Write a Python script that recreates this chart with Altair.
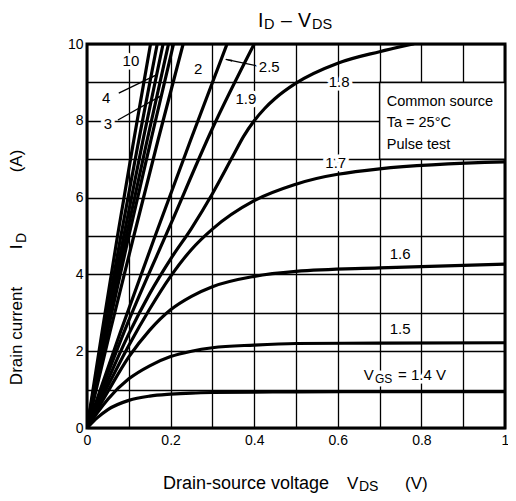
import math
import altair as alt
import pandas as pd

FONT = "Liberation Sans"
W, H = 418, 384

# ---------------- data ----------------
# saturating curves (VGS = 1.4 ... 1.7) on a common VDS grid
vds_sat = [0, 0.025, 0.05, 0.1, 0.15, 0.2, 0.25, 0.3, 0.4, 0.5, 0.7, 1.0]
id_14 = [0, 0.27, 0.48, 0.72, 0.83, 0.88, 0.91, 0.925, 0.935, 0.94, 0.945, 0.945]
id_15 = [0, 0.40, 0.75, 1.28, 1.62, 1.86, 2.00, 2.09, 2.16, 2.20, 2.21, 2.22]
id_16 = [0, 0.48, 0.95, 1.85, 2.55, 3.08, 3.43, 3.68, 3.95, 4.08, 4.17, 4.27]
id_17 = [0, 0.58, 1.10, 2.15, 3.10, 3.95, 4.65, 5.18, 5.92, 6.35, 6.75, 6.93]

# VGS = 1.8
vds_18 = [0, 0.05, 0.1, 0.15, 0.2, 0.25, 0.3, 0.35, 0.375, 0.4, 0.425, 0.45, 0.5, 0.6, 0.7, 0.78]
id_18 = [0, 1.25, 2.45, 3.5, 4.4, 5.2, 6.1, 7.1, 7.6, 8.0, 8.32, 8.58, 8.98, 9.5, 9.8, 10.0]

# VGS = 1.9 (almost straight)
vds_19 = [0, 0.1, 0.2, 0.3, 0.4]
id_19 = [0, 2.8, 5.3, 7.8, 10.0]

# steep linear-region lines, VDS at ID = 0, 2.5, 5, 7.5, 10 A
id_steep = [0, 2.5, 5, 7.5, 10]
vds_line1 = [0, 0.036, 0.073, 0.112, 0.152]
vds_line2 = [0, 0.040, 0.081, 0.124, 0.168]
vds_line3 = [0, 0.043, 0.088, 0.134, 0.182]
vds_line4 = [0, 0.046, 0.094, 0.144, 0.195]
vds_line5 = [0, 0.049, 0.100, 0.153, 0.207]
vds_line6 = [0, 0.055, 0.112, 0.170, 0.230]
vds_line7 = [0, 0.080, 0.163, 0.248, 0.335]

# curve labels
label_text = ["10", "4", "3", "2", "2.5", "1.9", "1.8", "1.7", "1.6", "1.5"]
label_v = [0.105, 0.046, 0.050, 0.266, 0.436, 0.380, 0.603, 0.595, 0.749, 0.749]
label_i = [9.57, 8.59, 7.92, 9.34, 9.41, 8.56, 9.02, 6.91, 4.53, 2.58]

# arrows from labels to lines
arrow_tail_v = [0.076, 0.074, 0.407]
arrow_tail_i = [8.72, 8.02, 9.43]
arrow_tip_v = [0.165, 0.180, 0.332]
arrow_tip_i = [9.19, 8.67, 9.60]

# VGS = 1.4 V label pieces
vgs_parts = ["V", "GS", "= 1.4 V"]
vgs_v = [0.662, 0.689, 0.744]
vgs_i = [1.38, 1.38, 1.38]

# conditions box
box_v = [0.7, 1.0]
box_i = [7.0, 9.0]
note_lines = ["Common source", "Ta = 25°C", "Pulse test"]
note_v = [0.717, 0.717, 0.717]
note_i = [8.50, 7.94, 7.37]

x_ticks = [round(k * 0.1, 1) for k in range(11)]
y_ticks = list(range(11))

# ---------------- build tables ----------------
rows = []
def add(name, vs, ids):
    for k, (v, i) in enumerate(zip(vs, ids)):
        rows.append({"series": name, "v": v, "i": i, "k": k})

add("1.4", vds_sat, id_14)
add("1.5", vds_sat, id_15)
add("1.6", vds_sat, id_16)
add("1.7", vds_sat, id_17)
add("1.8", vds_18, id_18)
add("1.9", vds_19, id_19)
for n, vs in enumerate([vds_line1, vds_line2, vds_line3, vds_line4,
                        vds_line5, vds_line6, vds_line7]):
    add("L%d" % n, vs, id_steep)
curves = pd.DataFrame(rows)

labels = pd.DataFrame({"t": label_text, "v": label_v, "i": label_i})
vgs_df = pd.DataFrame({"t": vgs_parts, "v": vgs_v, "i": vgs_i})
notes = pd.DataFrame({"t": note_lines, "v": note_v, "i": note_i})
box = pd.DataFrame({"v": [box_v[0]], "v2": [box_v[1]], "i": [box_i[0]], "i2": [box_i[1]]})

arr_rows = []
for tv, ti, pv, pi in zip(arrow_tail_v, arrow_tail_i, arrow_tip_v, arrow_tip_i):
    dx = (pv - tv) * W
    dy = (pi - ti) * H / 10
    ang = math.degrees(math.atan2(dx, dy)) % 360
    L = math.hypot(dx, dy)
    back = 4.0
    hv = pv - (dx / L) * back / W
    hi = pi - (dy / L) * back / (H / 10)
    arr_rows.append({"v": tv, "i": ti, "v2": pv, "i2": pi, "hv": hv, "hi": hi, "ang": ang})
arrows = pd.DataFrame(arr_rows)

# ---------------- encodings ----------------
xs = alt.Scale(domain=[0, 1], nice=False, zero=False)
ys = alt.Scale(domain=[0, 10], nice=False, zero=False)
x_axis = alt.Axis(values=x_ticks, grid=True, ticks=False, domain=False, title=None,
                  labelExpr="round(datum.value*10) % 2 == 0 ? format(datum.value, '~g') : ''",
                  labelFont=FONT, labelFontSize=14, labelColor="black", labelPadding=5,
                  labelFlush=False, labelOverlap=False,
                  gridColor="black", gridWidth=1.3, gridOpacity=1)
y_axis = alt.Axis(values=y_ticks, grid=True, ticks=False, domain=False, title=None,
                  labelExpr="datum.value % 2 == 0 ? format(datum.value, '~g') : ''",
                  labelFont=FONT, labelFontSize=14, labelColor="black", labelPadding=4,
                  labelFlush=False, labelOverlap=False,
                  gridColor="black", gridWidth=1.3, gridOpacity=1)
X = alt.X("v:Q", scale=xs, axis=x_axis)
Y = alt.Y("i:Q", scale=ys, axis=y_axis)

lines = alt.Chart(curves).mark_line(color="black", strokeWidth=3.2, interpolate="monotone",
                                    clip=True, strokeCap="round").encode(
    x=X, y=Y, detail="series:N", order="k:Q")

box_layer = alt.Chart(box).mark_rect(fill="white", stroke="black", strokeWidth=1.5).encode(
    x=X, x2="v2:Q", y=Y, y2="i2:Q")

def texts(df, size, align="center", dy=0):
    halo = alt.Chart(df).mark_text(font=FONT, fontSize=size, align=align, baseline="middle",
                                   dy=dy, stroke="white", strokeWidth=7, strokeJoin="round",
                                   color="white").encode(x=X, y=Y, text="t:N")
    fg = alt.Chart(df).mark_text(font=FONT, fontSize=size, align=align, baseline="middle",
                                 dy=dy, color="black").encode(x=X, y=Y, text="t:N")
    return [halo, fg]

label_layers = texts(labels, 15)
vgs_main = texts(vgs_df[vgs_df.t != "GS"], 15, align="left")
vgs_sub = texts(vgs_df[vgs_df.t == "GS"], 12, align="left", dy=4)
note_layers = [alt.Chart(notes).mark_text(font=FONT, fontSize=14.5, align="left",
                                          baseline="middle", color="black").encode(
    x=X, y=Y, text="t:N")]

arrow_lines = alt.Chart(arrows).mark_rule(color="black", strokeWidth=1.3).encode(
    x=X, y=Y, x2="v2:Q", y2="i2:Q")
arrow_heads = alt.Chart(arrows).mark_point(shape="wedge", filled=True, color="black",
                                           size=70, opacity=1).encode(
    x=alt.X("hv:Q", scale=xs, axis=x_axis), y=alt.Y("hi:Q", scale=ys, axis=y_axis),
    angle=alt.Angle("ang:Q", scale=None))

# title and axis titles (with subscripts) as text pieces
def piece(t, x, y, size, align="left", angle=0, baseline="alphabetic"):
    return alt.Chart(pd.DataFrame({"t": [t]})).mark_text(
        font=FONT, fontSize=size, align=align, baseline=baseline, angle=angle,
        color="black").encode(x=alt.value(x), y=alt.value(y), text="t:N")

title_layers = [
    piece("I", 171, -17, 19.5),
    piece("D", 177, -15, 14.5),
    piece("–", 194, -17, 19.5),
    piece("V", 211, -17, 19.5),
    piece("DS", 225, -15, 14.5),
]
xtitle_layers = [
    piece("Drain-source voltage", 76, 445, 18),
    piece("V", 260, 445, 17),
    piece("DS", 272, 447, 14),
    piece("(V)", 318, 445, 17),
]
ytitle_layers = [
    piece("Drain current", -70, 292, 17, align="center", angle=270, baseline="middle"),
    piece("I", -70, 203, 17, align="center", angle=270, baseline="middle"),
    piece("D", -65, 194, 14, align="center", angle=270, baseline="middle"),
    piece("(A)", -70, 117, 17, align="center", angle=270, baseline="middle"),
]

chart = alt.layer(
    box_layer, lines, arrow_lines, arrow_heads,
    *label_layers, *vgs_main, *vgs_sub, *note_layers,
    *title_layers, *xtitle_layers, *ytitle_layers,
).properties(
    width=W, height=H,
    autosize=alt.AutoSizeParams(type="none"),
    padding={"left": 79, "top": 36, "right": 3, "bottom": 65},
).configure_view(stroke="black", strokeWidth=3)

chart.save("out.html", embed_options={"renderer": "svg", "actions": False})
